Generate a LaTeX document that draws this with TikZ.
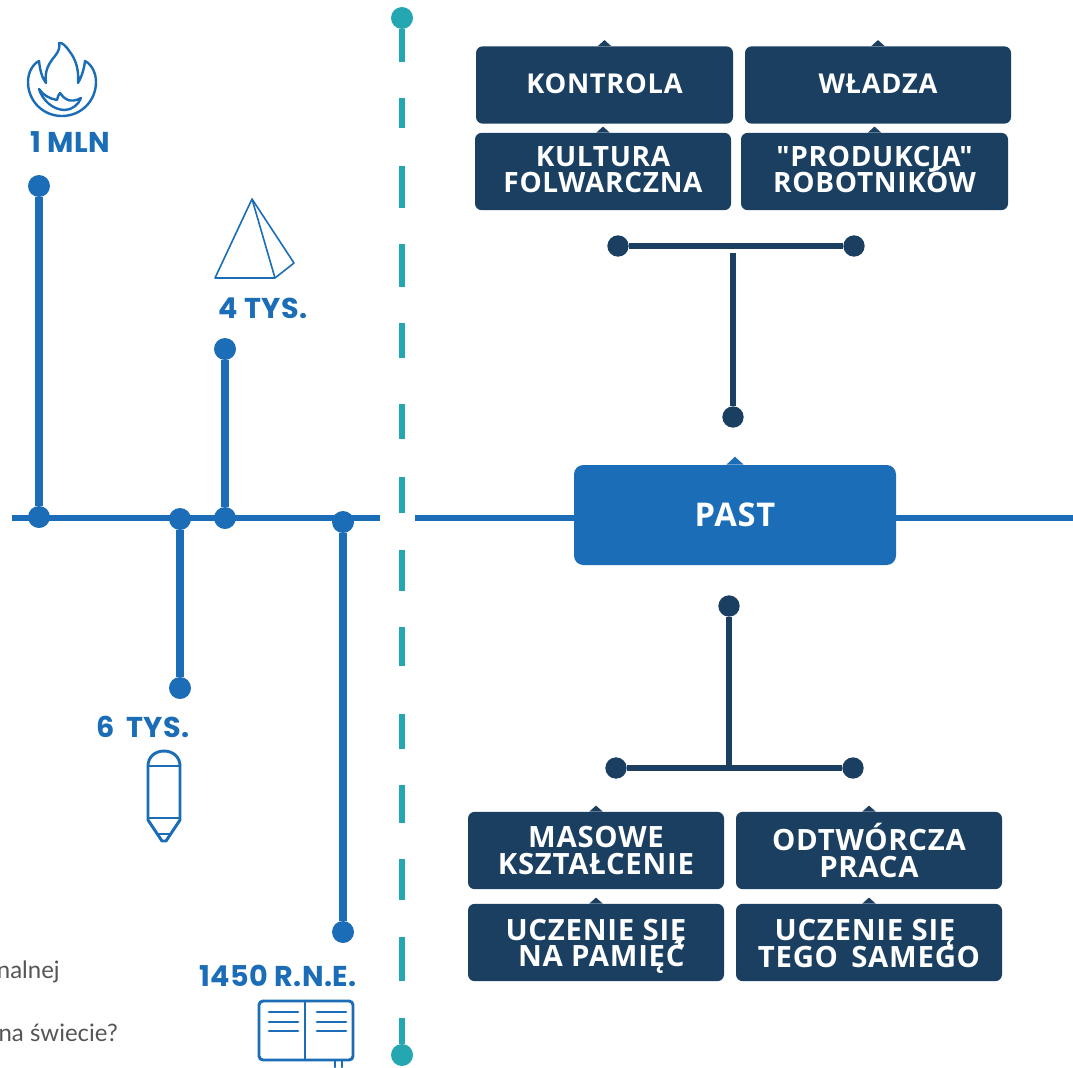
\documentclass[tikz,border=0pt]{standalone}
\usepackage{fontspec}
\newfontfamily\boxf[LetterSpace=2.5]{Open Sans}
\newfontfamily\labelf[LetterSpace=1.5]{Poppins}
\newfontfamily\thinf{Lato}
\setmainfont{Open Sans}
\definecolor{blueA}{HTML}{1A6DB6}
\definecolor{darkB}{HTML}{1A3F60}
\definecolor{tealC}{HTML}{24A7B0}
\definecolor{greyT}{HTML}{555555}
\tikzset{
 x=0.75pt,y=-0.75pt,
 dotb/.style={circle,fill=blueA,inner sep=0pt,minimum size=16.5pt},
 dotd/.style={circle,fill=darkB,inner sep=0pt,minimum size=16pt},
 dott/.style={circle,fill=tealC,inner sep=0pt,minimum size=16.5pt},
 blueline/.style={draw=blueA,line width=5.3pt},
 baseline/.style={draw=blueA,line width=4.6pt},
 darkline/.style={draw=darkB,line width=4.8pt},
 tealline/.style={draw=tealC,line width=5.2pt},
 icon/.style={draw=blueA,line width=2.2pt,line join=round,line cap=round},
 flameicon/.style={draw=blueA,line width=1.8pt,line join=round,line cap=round},
 thinicon/.style={draw=blueA,line width=1.2pt,line join=round},
 darkbox/.style={fill=darkB,text=white,rounded corners=5pt,align=center,inner sep=0pt,minimum height=58pt},
 oneline/.style={darkbox,font=\fontsize{20.5}{20}\selectfont\boxf\bfseries},
 rowupper/.style={darkbox,font=\fontsize{21}{20}\selectfont\boxf\bfseries},
 rowlower/.style={darkbox,font=\fontsize{22}{20}\selectfont\boxf\bfseries},
 pastbox/.style={fill=blueA,text=white,rounded corners=7pt,inner sep=0pt,minimum width=241.5pt,minimum height=75pt,font=\fontsize{24.5}{26}\selectfont\boxf\bfseries},
 yearlabel/.style={text=blueA,inner sep=0pt,font=\fontsize{21.5}{24}\selectfont\labelf\bfseries},
 faint/.style={text=greyT,inner sep=0pt,anchor=base east,font=\fontsize{18}{20}\selectfont\thinf},
}
\newcommand{\boxtip}[4]{\fill[#2] ([xshift=-#3]#1.north) -- ([yshift=#4]#1.north) -- ([xshift=#3]#1.north) -- cycle;}
\begin{document}
\begin{tikzpicture}
\lineskiplimit=-50pt
\useasboundingbox (0,0) rectangle (1073,1067);
% dashed divider
\node[dott] (dtop) at (402,18) {};
\node[dott] (dbot) at (402,1055) {};
\coordinate (d2) at (402,62);
\draw[tealline] (dtop) -- (d2);
\foreach \a/\b in {98/128,166/208,244/287,323/358,404/439,477/513,550/591,627/666,714/749,785/823,859/900,937/981}
 \draw[tealline] (402,\a) -- (402,\b);
\coordinate (d3) at (402,1018);
\draw[tealline] (d3) -- (dbot);
% timeline dots
\node[dotb] (t1) at (39,517) {};
\node[dotb] (t2) at (180,519) {};
\node[dotb] (t3) at (225,518) {};
\node[dotb] (t4) at (343,522) {};
\node[dotb] (e1) at (39,186) {};
\node[dotb] (e2) at (180,688) {};
\node[dotb] (e3) at (225,349) {};
\node[dotb] (e4) at (343,932) {};
\coordinate (tlL) at (12,518);
\coordinate (tlR) at (380,518);
\coordinate (trL) at (415,518);
\coordinate (trR) at (1073,518);
\draw[baseline] (tlL) -- (tlR);
\draw[blueline] (t1) -- (e1);
\draw[blueline] (t2) -- (e2);
\draw[blueline] (t3) -- (e3);
\draw[blueline] (t4) -- (e4);
% labels
\node[yearlabel] (l1) at (70,142) {1 MLN};
\node[yearlabel] (l2) at (263,308) {4 TYS.};
\node[yearlabel] (l3) at (143,727) {6\, TYS.};
\node[yearlabel] (l4) at (278,976) {1450 R.N.E.};
\node[faint] (f1) at (60,978) {nalnej};
\node[faint] (f2) at (118,1041) {na świecie?};
% flame
\draw[flameicon] (59,43) .. controls (62,42) and (66,46) .. (70,52) .. controls (76,60) and (79,70) .. (78,83)
 .. controls (81,78) and (84,70) .. (85,61) .. controls (91,64) and (96,72) .. (96,82)
 .. controls (96,101) and (81,116) .. (62,116) .. controls (43,116) and (28,101) .. (28,82)
 .. controls (28,72) and (33,64) .. (39,61) .. controls (40,70) and (42,78) .. (46,83)
 .. controls (44,70) and (50,62) .. (55,56) .. controls (59,51) and (60,47) .. (59,43) -- cycle;
\draw[flameicon] (39,89) .. controls (42,99) and (52,110) .. (65,110) .. controls (72,110) and (79,104) .. (81,98)
 .. controls (76,101) and (71,101) .. (68,100) .. controls (64,98) and (62,96) .. (60,93)
 .. controls (58,95) and (58,97) .. (57,100) .. controls (50,99) and (43,95) .. (39,89) -- cycle;
% pyramid
\draw[thinicon] (252,199) -- (215,278) -- (275,278) -- (294,263) -- cycle;
\draw[thinicon] (252,199) -- (275,278);
% pencil
\draw[icon] (148,766) .. controls (148,757) and (155,751) .. (164,751) .. controls (173,751) and (180,757) .. (180,766)
 -- (180,820) -- (166,841) -- (162,841) -- (148,820) -- cycle;
\draw[icon] (148,766) -- (180,766);
\draw[icon] (148,818) -- (180,818);
\draw[icon] (158,834) -- (170,834);
% book
\draw[icon,rounded corners=3pt] (259,1001) rectangle (353,1060);
\draw[icon] (305,1001) -- (305,1060);
\foreach \y in {1012,1022,1031} {
 \draw[icon] (269,\y) -- (298,\y);
 \draw[icon] (317,\y) -- (346,\y);
}
\draw[icon] (335,1061) -- (335,1067);
\draw[icon] (342,1061) -- (342,1067);
% top boxes
\node[oneline,minimum width=192.75pt] (kontrola) at (604.5,85) {\raisebox{2pt}{KONTROLA}};
\node[oneline,minimum width=199.5pt] (wladza) at (878,85) {\raisebox{2pt}{WŁADZA}};
\node[rowupper,minimum width=192pt] (kultura) at (603,171.5) {KULTURA\\FOLWARCZNA\rule[-3pt]{0pt}{0pt}};
\node[rowupper,minimum width=200.25pt] (produkcja) at (874.5,171.5) {"PRODUKCJA"\\ROBOTNIKÓW\rule[-3pt]{0pt}{0pt}};
\foreach \n in {kontrola,wladza,kultura,produkcja} {\boxtip{\n}{darkB}{5pt}{4.5pt}}
% bottom boxes
\node[rowlower,minimum width=192pt] (masowe) at (596,850.5) {MASOWE\\KSZTAŁCENIE};
\node[rowlower,minimum width=199.5pt] (odtworcza) at (869,850.5) {ODTWÓRCZA\\PRACA};
\node[rowlower,minimum width=192pt] (pamiec) at (596,942.5) {\rule{0pt}{21.7pt}UCZENIE SIĘ\\\hspace*{8pt}NA PAMIĘĆ};
\node[rowlower,minimum width=199.5pt] (samego) at (869,942.5) {\rule{0pt}{17.7pt}UCZENIE SIĘ\hspace*{6pt}\\TEGO\, SAMEGO};
\foreach \n in {masowe,odtworcza,pamiec,samego} {\boxtip{\n}{darkB}{5pt}{4.5pt}}
% past
\node[pastbox] (past) at (735,515) {PAST};
\boxtip{past}{blueA}{6.5pt}{6pt}
\draw[baseline] (trL) -- (trL -| past.west);
\draw[baseline] (trR -| past.east) -- (trR);
% top connector
\node[dotd] (ta) at (618,246) {};
\node[dotd] (tb) at (854,246) {};
\node[dotd] (tc) at (733,417) {};
\coordinate (ts) at (733,253);
\draw[darkline] (ta) -- (tb);
\draw[darkline] (ts) -- (tc);
% bottom connector
\node[dotd] (ba) at (616,768) {};
\node[dotd] (bb) at (853,768) {};
\node[dotd] (bc) at (729,606) {};
\coordinate (bs) at (729,768);
\draw[darkline] (ba) -- (bb);
\draw[darkline] (bc) -- (bs);
\end{tikzpicture}
\end{document}
